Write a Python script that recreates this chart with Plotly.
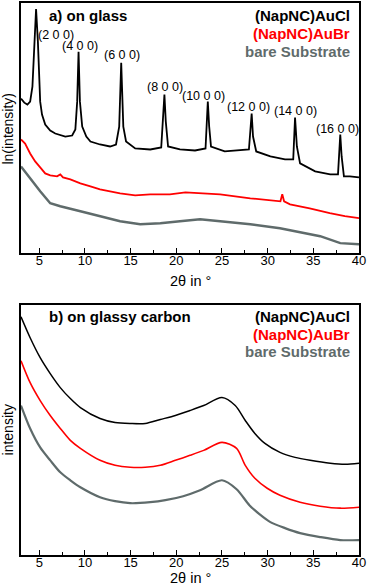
import plotly.graph_objects as go

# ---------------- Panel a) on glass (ln intensity, arbitrary units) ----------------
a_cl_x = [3.0, 3.36, 3.7, 4.0, 4.25, 4.45, 4.65, 4.85, 5.1, 5.3, 5.65, 6.2, 6.75, 7.85, 8.6, 8.95,
          9.15, 9.3, 9.45, 9.7, 10.15, 10.6, 11.65, 12.75, 13.4, 13.75, 13.97, 14.2, 14.5, 15.5,
          17.15, 18.35, 18.55, 18.7, 18.85, 19.1, 20.4, 22.05, 23.2, 23.3, 23.45, 23.6, 23.8,
          25.3, 26.95, 27.95, 28.1, 28.25, 28.4, 28.75, 30.3, 31.9, 32.8, 32.9, 33.0, 33.2,
          33.55, 35.2, 36.85, 37.7, 37.8, 37.95, 38.1, 38.35, 39.0, 40.0]
a_cl_y = [155, 151, 149, 152, 167, 212, 245, 212, 152, 139, 129, 123, 120, 117, 118, 124,
          152, 202, 152, 127, 117, 112, 109, 107, 109, 127, 191, 127, 112, 105,
          104, 106, 132, 159, 132, 107, 104, 103, 105, 127, 152, 127, 107,
          102, 103, 104, 122, 140, 117, 102, 97, 94, 94, 112, 136, 107,
          90, 82, 79, 79, 102, 119, 97, 77, 77, 76]

a_br_x = [3.0, 3.45, 4.0, 4.55, 5.1, 5.65, 6.2, 6.95, 7.3, 7.6, 8.4, 9.5, 10.6, 11.65, 13.85,
          15.5, 17.15, 19.3, 21.0, 22.6, 24.8, 28.1, 30.8, 31.4, 31.6, 31.8, 32.45, 34.6,
          36.8, 38.45, 40.0]
a_br_y = [114, 110, 100, 92, 86, 80, 78, 77, 79, 76, 74, 70, 67, 64, 60,
          58, 59, 59, 61, 60, 59, 55, 53, 52, 59, 52, 49, 45,
          40, 37, 35]

a_sub_x = [3.0, 4.0, 5.1, 6.2, 7.3, 9.5, 11.65, 13.85, 16.05, 18.25, 20.4, 22.6, 24.8, 28.1,
           31.35, 33.55, 35.75, 37.95, 40.0]
a_sub_y = [87, 75, 62, 50, 47, 42, 37, 32, 29, 30, 32, 34, 32, 29,
           25, 21, 17, 10, 9]

peak_labels = ["(2 0 0)", "(4 0 0)", "(6 0 0)", "(8 0 0)", "(10 0 0)", "(12 0 0)", "(14 0 0)", "(16 0 0)"]
peak_label_x = [6.8, 9.49, 14.08, 18.78, 23.0, 27.86, 33.0, 37.6]
peak_label_y = [219, 208, 199, 167, 158, 147, 143, 125]

# ---------------- Panel b) on glassy carbon (intensity, arbitrary units) ----------------
b_cl_x = [3.0, 4.0, 5.1, 6.2, 7.3, 8.4, 9.5, 11.65, 13.3, 14.95, 16.6, 18.25, 19.9, 21.5,
          23.0, 25.0, 26.45, 27.55, 28.6, 29.7, 31.35, 33.0, 34.65, 36.85, 38.5, 40.0]
b_cl_y = [239, 218, 198, 182, 168, 157, 148, 137, 133, 132, 132, 136, 140, 145,
          150, 158, 150, 135, 122, 112, 103, 98, 95, 92, 91, 92]

b_br_x = [3.0, 4.0, 5.1, 6.2, 7.3, 8.4, 9.5, 11.65, 13.3, 14.95, 16.6, 18.25, 19.9, 21.5,
          23.0, 25.0, 26.6, 27.55, 28.6, 29.95, 31.35, 33.55, 35.75, 37.95, 40.0]
b_br_y = [195, 173, 155, 140, 127, 115, 107, 95, 90, 88, 88, 90, 95, 100,
          105, 113, 107, 90, 77, 67, 60, 53, 49, 47, 48]

b_sub_x = [3.0, 4.0, 5.1, 6.2, 7.3, 8.4, 9.5, 11.65, 13.3, 14.95, 17.15, 18.8, 20.75, 22.6,
           25.0, 26.6, 28.0, 29.1, 30.3, 31.9, 33.55, 35.75, 37.95, 40.0]
b_sub_y = [150, 127, 108, 95, 83, 75, 68, 58, 54, 52, 53, 55, 59, 65,
           75, 66, 50, 41, 33, 27, 22, 18, 15, 15]

series_names = ["(NapNC)AuCl", "(NapNC)AuBr", "bare Substrate"]
colors = ["#000000", "#ff0000", "#5f6b6b"]

x_ticks = [5, 10, 15, 20, 25, 30, 35, 40]

FONT = "Liberation Sans, Arial, sans-serif"

fig = go.Figure()

fig.add_trace(go.Scatter(x=a_cl_x, y=a_cl_y, mode="lines", line=dict(color=colors[0], width=1.8),
                         xaxis="x", yaxis="y", showlegend=False))
fig.add_trace(go.Scatter(x=a_br_x, y=a_br_y, mode="lines", line=dict(color=colors[1], width=1.8),
                         xaxis="x", yaxis="y", showlegend=False))
fig.add_trace(go.Scatter(x=a_sub_x, y=a_sub_y, mode="lines", line=dict(color=colors[2], width=2.5),
                         xaxis="x", yaxis="y", showlegend=False))

fig.add_trace(go.Scatter(x=b_cl_x, y=b_cl_y, mode="lines",
                         line=dict(color=colors[0], width=1.5, shape="spline", smoothing=0.8),
                         xaxis="x2", yaxis="y2", showlegend=False))
fig.add_trace(go.Scatter(x=b_br_x, y=b_br_y, mode="lines",
                         line=dict(color=colors[1], width=1.6, shape="spline", smoothing=0.8),
                         xaxis="x2", yaxis="y2", showlegend=False))
fig.add_trace(go.Scatter(x=b_sub_x, y=b_sub_y, mode="lines",
                         line=dict(color=colors[2], width=2.2, shape="spline", smoothing=0.8),
                         xaxis="x2", yaxis="y2", showlegend=False))

W, H = 367, 586
ML, MR, MT, MB = 21, 8, 1, 31
pw, ph = W - ML - MR, H - MT - MB


def px(xp):
    return (xp - ML) / pw


def py(yp):
    return (H - MB - yp) / ph


xcommon = dict(range=[3, 40], tickmode="array", tickvals=x_ticks, ticks="inside", ticklen=5,
               tickwidth=1.2, tickcolor="black", showline=True, linewidth=1.5, linecolor="black",
               mirror=True, showgrid=False, zeroline=False, ticklabelstandoff=-5,
               tickfont=dict(family=FONT, size=13, color="black"),
               minor=dict(tickvals=[7.5, 12.5, 17.5, 22.5, 27.5, 32.5, 37.5], ticks="inside",
                          ticklen=3, tickwidth=1.2, tickcolor="black"))
ycommon = dict(range=[0, 251], showticklabels=False, ticks="", showline=True, linewidth=1.5,
               linecolor="black", mirror=True, showgrid=False, zeroline=False)

fig.update_layout(
    width=W, height=H,
    margin=dict(l=ML, r=MR, t=MT, b=MB),
    paper_bgcolor="white", plot_bgcolor="white",
    xaxis=dict(domain=[0, 1], anchor="y", **xcommon),
    yaxis=dict(domain=[py(252), py(1)], anchor="x", **ycommon),
    xaxis2=dict(domain=[0, 1], anchor="y2", **xcommon),
    yaxis2=dict(domain=[0, py(304)], anchor="x2", **ycommon),
    showlegend=False,
)

ann = []
for t, lx, ly in zip(peak_labels, peak_label_x, peak_label_y):
    ann.append(dict(text=t, x=lx, y=ly, xref="x", yref="y", showarrow=False,
                    font=dict(family=FONT, size=12.5, color="black"), xanchor="center", yanchor="middle"))

ann.append(dict(text="<b>a) on glass</b>", x=px(47), y=py(14), xref="paper", yref="paper", showarrow=False,
                xanchor="left", yanchor="middle", font=dict(family=FONT, size=15, color="black")))
ann.append(dict(text="<b>b) on glassy carbon</b>", x=px(47), y=py(316), xref="paper", yref="paper",
                showarrow=False, xanchor="left", yanchor="middle", font=dict(family=FONT, size=15, color="black")))

for ys, step in ((14, 18), (316, 17.5)):
    for i, (name, c) in enumerate(zip(series_names, colors)):
        ann.append(dict(text="<b>%s</b>" % name, x=px(352), y=py(ys + i * step), xref="paper", yref="paper",
                        showarrow=False, xanchor="right", yanchor="middle",
                        font=dict(family=FONT, size=15, color=c)))

ann.append(dict(text="ln(intensity)", x=px(8), y=py(127), xref="paper", yref="paper", showarrow=False,
                textangle=-90, xanchor="center", yanchor="middle", font=dict(family=FONT, size=14, color="black")))
ann.append(dict(text="intensity", x=px(8), y=py(430), xref="paper", yref="paper", showarrow=False,
                textangle=-90, xanchor="center", yanchor="middle", font=dict(family=FONT, size=14, color="black")))
ann.append(dict(text="2θ in °", x=px(190), y=py(280), xref="paper", yref="paper", showarrow=False,
                xanchor="center", yanchor="middle", font=dict(family=FONT, size=14.5, color="black")))
ann.append(dict(text="2θ in °", x=px(190), y=py(578.5), xref="paper", yref="paper", showarrow=False,
                xanchor="center", yanchor="middle", font=dict(family=FONT, size=14.5, color="black")))

fig.update_layout(annotations=ann)

fig.write_html("out.html", config={"displayModeBar": False},
               post_script="document.body.style.margin='0';document.body.style.overflow='hidden';")
